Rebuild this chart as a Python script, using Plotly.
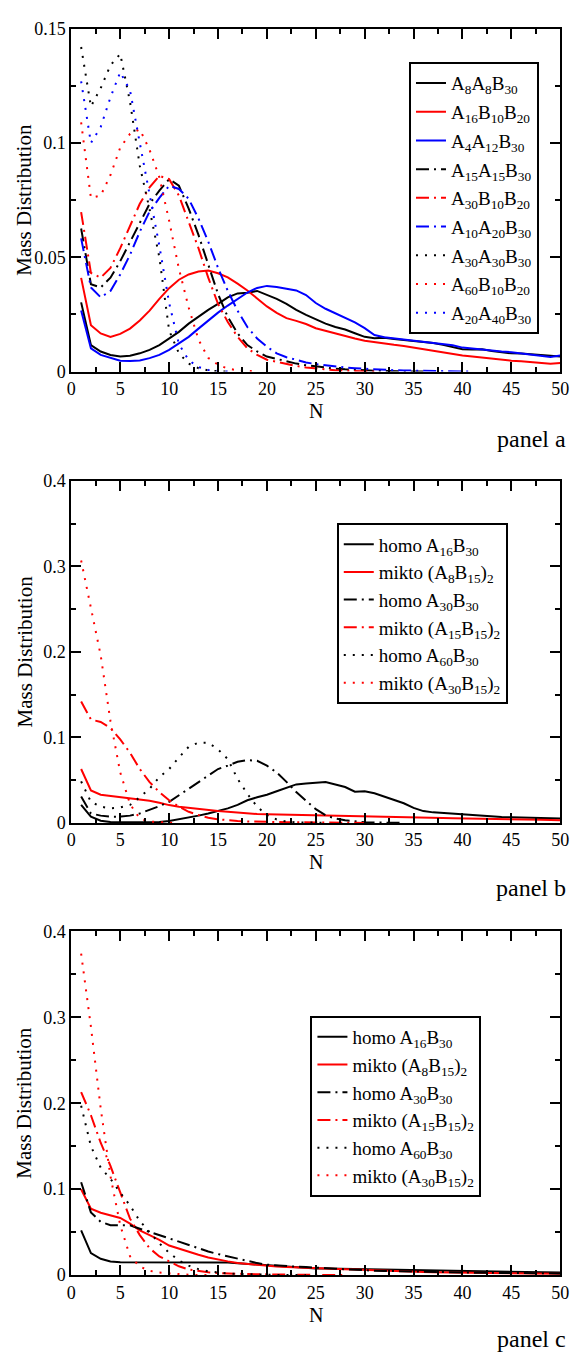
import plotly.graph_objects as go

W, H = 579, 1362
N = list(range(1, 51))

# ---------------- panel a ----------------
a_A8A8B30 = [0.0303, 0.0116, 0.0088, 0.0073, 0.0066, 0.0069, 0.0080, 0.0095, 0.0116, 0.0145,
             0.0174, 0.0210, 0.0240, 0.0270, 0.0296, 0.0325, 0.0342, 0.0345, 0.0353, 0.0335,
             0.0318, 0.0296, 0.0270, 0.0248, 0.0228, 0.0210, 0.0195, 0.0184, 0.0168, 0.0152,
             0.0146, 0.0148, 0.0143, 0.0139, 0.0136, 0.0130, 0.0125, 0.0117, 0.0108, 0.0098,
             0.0097, 0.0098, 0.0090, 0.0085, 0.0080, 0.0079, 0.0075, 0.0072, 0.0068, 0.0066]
a_A16B10B20 = [0.0410, 0.0203, 0.0167, 0.0152, 0.0165, 0.0188, 0.0224, 0.0267, 0.0318, 0.0365,
               0.0402, 0.0425, 0.0438, 0.0442, 0.0430, 0.0412, 0.0385, 0.0355, 0.0320, 0.0285,
               0.0257, 0.0234, 0.0222, 0.0208, 0.0190, 0.0178, 0.0168, 0.0155, 0.0145, 0.0135,
               0.0128, 0.0123, 0.0117, 0.0112, 0.0105, 0.0098, 0.0090, 0.0082, 0.0077, 0.0070,
               0.0066, 0.0061, 0.0057, 0.0052, 0.0048, 0.0045, 0.0042, 0.0038, 0.0034, 0.0038]
a_A4A12B30 = [0.0267, 0.0102, 0.0073, 0.0059, 0.0048, 0.0046, 0.0049, 0.0059, 0.0073, 0.0095,
              0.0124, 0.0152, 0.0188, 0.0224, 0.0258, 0.0289, 0.0318, 0.0346, 0.0366, 0.0375,
              0.0370, 0.0362, 0.0355, 0.0335, 0.0300, 0.0275, 0.0255, 0.0235, 0.0215, 0.0190,
              0.0160, 0.0150, 0.0145, 0.0140, 0.0135, 0.0132, 0.0128, 0.0122, 0.0115, 0.0105,
              0.0100, 0.0098, 0.0093, 0.0088, 0.0085, 0.0080, 0.0076, 0.0070, 0.0064, 0.0070]
a_A15A15B30 = [0.0626, 0.0382, 0.0368, 0.0411, 0.0483, 0.0569, 0.0655, 0.0734, 0.0792, 0.0842,
               0.0813, 0.0713, 0.0598, 0.0468, 0.0339, 0.0239, 0.0167, 0.0116, 0.0088, 0.0066,
               0.0055, 0.0045, 0.0035, 0.0028, 0.0022, 0.0017, 0.0013, 0.0010, 0.0007, 0.0005,
               0.0004, 0.0003, 0.0002, 0.0002, 0.0001, 0.0]
a_A30B10B20 = [0.0698, 0.0432, 0.0411, 0.0454, 0.0540, 0.0640, 0.0734, 0.0806, 0.0856, 0.0842,
               0.0770, 0.0655, 0.0540, 0.0411, 0.0296, 0.0217, 0.0152, 0.0102, 0.0073, 0.0052,
               0.0042, 0.0033, 0.0025, 0.0018, 0.0013, 0.0010, 0.0006, 0.0004, 0.0002, 0.0001, 0.0]
a_A10A20B30 = [0.0583, 0.0368, 0.0325, 0.0353, 0.0425, 0.0511, 0.0612, 0.0700, 0.0760, 0.0813,
               0.0799, 0.0756, 0.0670, 0.0569, 0.0454, 0.0353, 0.0267, 0.0195, 0.0145, 0.0109,
               0.0080, 0.0063, 0.0052, 0.0040, 0.0033, 0.0027, 0.0022, 0.0018, 0.0015, 0.0012,
               0.0010, 0.0008, 0.0006, 0.0005, 0.0004, 0.0003, 0.0002, 0.0002, 0.0001, 0.0001, 0.0]
a_A30A30B30 = [0.1420, 0.1160, 0.1240, 0.1340, 0.1390, 0.1180, 0.0900, 0.0710, 0.0500, 0.0180,
               0.0080, 0.0035, 0.0015, 0.0005, 0.0002, 0.0]
a_A60B10B20 = [0.1090, 0.0760, 0.0770, 0.0860, 0.0980, 0.1040, 0.1060, 0.0970, 0.0850, 0.0660,
               0.0450, 0.0280, 0.0140, 0.0060, 0.0030, 0.0013, 0.0006, 0.0002, 0.0]
a_A20A40B30 = [0.1270, 0.1000, 0.1070, 0.1200, 0.1310, 0.1230, 0.1000, 0.0770, 0.0550, 0.0300,
               0.0120, 0.0050, 0.0020, 0.0007, 0.0002, 0.0]

# ---------------- panel b ----------------
b_homo_A16B30 = [0.0210, 0.0073, 0.0025, 0.0010, 0.0006, 0.0005, 0.0005, 0.0006, 0.0010, 0.0023,
                 0.0042, 0.0060, 0.0085, 0.0110, 0.0140, 0.0170, 0.0210, 0.0265, 0.0300, 0.0330,
                 0.0370, 0.0410, 0.0450, 0.0460, 0.0468, 0.0478, 0.0450, 0.0420, 0.0365, 0.0370,
                 0.0346, 0.0310, 0.0270, 0.0230, 0.0175, 0.0138, 0.0123, 0.0115, 0.0104, 0.0096,
                 0.0092, 0.0082, 0.0075, 0.0070, 0.0065, 0.0062, 0.0060, 0.0058, 0.0055, 0.0050]
b_mikto_A8B15 = [0.0630, 0.0380, 0.0330, 0.0315, 0.0300, 0.0290, 0.0277, 0.0258, 0.0235, 0.0208,
                 0.0190, 0.0177, 0.0160, 0.0150, 0.0138, 0.0130, 0.0120, 0.0110, 0.0104, 0.0100,
                 0.0098, 0.0096, 0.0094, 0.0093, 0.0092, 0.0090, 0.0087, 0.0083, 0.0079, 0.0077,
                 0.0076, 0.0074, 0.0072, 0.0070, 0.0066, 0.0064, 0.0062, 0.0058, 0.0055, 0.0052,
                 0.0050, 0.0049, 0.0047, 0.0045, 0.0043, 0.0040, 0.0038, 0.0036, 0.0034, 0.0032]
b_homo_A30B30 = [0.0310, 0.0110, 0.0085, 0.0073, 0.0073, 0.0085, 0.0110, 0.0150, 0.0196, 0.0246,
                 0.0323, 0.0400, 0.0477, 0.0550, 0.0630, 0.0670, 0.0715, 0.0735, 0.0727, 0.0670,
                 0.0590, 0.0480, 0.0360, 0.0260, 0.0160, 0.0090, 0.0050, 0.0030, 0.0015, 0.0008,
                 0.0004, 0.0002, 0.0001, 0.0]
b_mikto_A15B15 = [0.1420, 0.1210, 0.1180, 0.1110, 0.0977, 0.0820, 0.0630, 0.0477, 0.0360, 0.0265,
                  0.0190, 0.0130, 0.0092, 0.0060, 0.0042, 0.0030, 0.0022, 0.0017, 0.0013, 0.0010,
                  0.0009, 0.0008, 0.0007, 0.0006, 0.0005, 0.0004, 0.0003, 0.0002, 0.0001, 0.0]
b_homo_A60B30 = [0.0485, 0.0246, 0.0190, 0.0170, 0.0180, 0.0210, 0.0300, 0.0400, 0.0535, 0.0630,
                 0.0765, 0.0890, 0.0938, 0.0938, 0.0860, 0.0746, 0.0515, 0.0340, 0.0190, 0.0090,
                 0.0040, 0.0015, 0.0007, 0.0003, 0.0001, 0.0]
b_mikto_A30B15 = [0.3070, 0.2520, 0.1960, 0.1190, 0.0590, 0.0220, 0.0050, 0.0015, 0.0005, 0.0002, 0.0]

# ---------------- panel c ----------------
c_homo_A16B30 = [0.0520, 0.0256, 0.0190, 0.0160, 0.0150, 0.0150, 0.0150, 0.0150, 0.0148, 0.0142,
                 0.0145, 0.0146, 0.0146, 0.0145, 0.0146, 0.0148, 0.0138, 0.0130, 0.0122, 0.0112,
                 0.0105, 0.0098, 0.0090, 0.0083, 0.0078, 0.0076, 0.0074, 0.0072, 0.0071, 0.0070,
                 0.0068, 0.0066, 0.0063, 0.0060, 0.0058, 0.0056, 0.0054, 0.0052, 0.0049, 0.0046,
                 0.0045, 0.0044, 0.0042, 0.0041, 0.0040, 0.0038, 0.0036, 0.0034, 0.0032, 0.0030]
c_mikto_A8B15 = [0.1000, 0.0772, 0.0726, 0.0696, 0.0665, 0.0600, 0.0520, 0.0466, 0.0410, 0.0344,
                 0.0306, 0.0268, 0.0237, 0.0206, 0.0180, 0.0160, 0.0141, 0.0130, 0.0115, 0.0107,
                 0.0100, 0.0095, 0.0092, 0.0088, 0.0085, 0.0080, 0.0075, 0.0070, 0.0065, 0.0060,
                 0.0056, 0.0052, 0.0048, 0.0044, 0.0040, 0.0037, 0.0034, 0.0032, 0.0030, 0.0028,
                 0.0026, 0.0024, 0.0022, 0.0021, 0.0020, 0.0019, 0.0018, 0.0017, 0.0016, 0.0015]
c_homo_A30B30 = [0.1080, 0.0730, 0.0620, 0.0580, 0.0580, 0.0580, 0.0540, 0.0500, 0.0466, 0.0428,
                 0.0390, 0.0350, 0.0313, 0.0275, 0.0245, 0.0218, 0.0187, 0.0160, 0.0140, 0.0122,
                 0.0112, 0.0105, 0.0098, 0.0094, 0.0090, 0.0082, 0.0075, 0.0068, 0.0061, 0.0055,
                 0.0052, 0.0049, 0.0046, 0.0043, 0.0040, 0.0038, 0.0036, 0.0034, 0.0032, 0.0030,
                 0.0029, 0.0028, 0.0027, 0.0026, 0.0025, 0.0024, 0.0023, 0.0022, 0.0021, 0.0020]
c_mikto_A15B15 = [0.2130, 0.1860, 0.1540, 0.1270, 0.0963, 0.0657, 0.0466, 0.0313, 0.0218, 0.0160,
                  0.0103, 0.0065, 0.0046, 0.0034, 0.0025, 0.0019, 0.0015, 0.0012, 0.0010, 0.0008,
                  0.0006, 0.0005, 0.0004, 0.0003, 0.0002, 0.0002, 0.0001, 0.0]
c_homo_A60B30 = [0.1970, 0.1500, 0.1250, 0.1120, 0.0960, 0.0810, 0.0630, 0.0500, 0.0370, 0.0260,
                 0.0170, 0.0110, 0.0070, 0.0045, 0.0030, 0.0020, 0.0015, 0.0010, 0.0007, 0.0005,
                 0.0003, 0.0002, 0.0001, 0.0]
c_mikto_A30B15 = [0.3740, 0.2890, 0.1940, 0.1150, 0.0580, 0.0220, 0.0100, 0.0050, 0.0030, 0.0020,
                  0.0010, 0.0005, 0.0002, 0.0]

labels_a = ["A<sub>8</sub>A<sub>8</sub>B<sub>30</sub>", "A<sub>16</sub>B<sub>10</sub>B<sub>20</sub>",
            "A<sub>4</sub>A<sub>12</sub>B<sub>30</sub>", "A<sub>15</sub>A<sub>15</sub>B<sub>30</sub>",
            "A<sub>30</sub>B<sub>10</sub>B<sub>20</sub>", "A<sub>10</sub>A<sub>20</sub>B<sub>30</sub>",
            "A<sub>30</sub>A<sub>30</sub>B<sub>30</sub>", "A<sub>60</sub>B<sub>10</sub>B<sub>20</sub>",
            "A<sub>20</sub>A<sub>40</sub>B<sub>30</sub>"]
labels_bc = ["homo A<sub>16</sub>B<sub>30</sub>", "mikto (A<sub>8</sub>B<sub>15</sub>)<sub>2</sub>",
             "homo A<sub>30</sub>B<sub>30</sub>", "mikto (A<sub>15</sub>B<sub>15</sub>)<sub>2</sub>",
             "homo A<sub>60</sub>B<sub>30</sub>", "mikto (A<sub>30</sub>B<sub>15</sub>)<sub>2</sub>"]

series_a = [a_A8A8B30, a_A16B10B20, a_A4A12B30, a_A15A15B30, a_A30B10B20, a_A10A20B30,
            a_A30A30B30, a_A60B10B20, a_A20A40B30]
series_b = [b_homo_A16B30, b_mikto_A8B15, b_homo_A30B30, b_mikto_A15B15, b_homo_A60B30, b_mikto_A30B15]
series_c = [c_homo_A16B30, c_mikto_A8B15, c_homo_A30B30, c_mikto_A15B15, c_homo_A60B30, c_mikto_A30B15]

SOLID = "solid"
DASHDOT = "13px,5px,2px,5px"
DOT = "2px,7px"
colors_a = ["black", "red", "blue"] * 3
dashes_a = [SOLID] * 3 + [DASHDOT] * 3 + [DOT] * 3
colors_bc = ["black", "red"] * 3
dashes_bc = [SOLID] * 2 + [DASHDOT] * 2 + [DOT] * 2

SERIF = "Liberation Serif, Times New Roman, serif"
fig = go.Figure()

def add_panel(series, labels, colors, dashes, ax, legend):
    for i, (vals, lab, col, da) in enumerate(zip(series, labels, colors, dashes)):
        fig.add_trace(go.Scatter(
            x=N[:len(vals)], y=vals, mode="lines", name=lab,
            line=dict(color=col, width=2, dash=da),
            xaxis="x" + ax, yaxis="y" + ax, legend=legend,
            legendgroup=legend + str(i)))

add_panel(series_a, labels_a, colors_a, dashes_a, "", "legend")
add_panel(series_b, labels_bc, colors_bc, dashes_bc, "2", "legend2")
add_panel(series_c, labels_bc, colors_bc, dashes_bc, "3", "legend3")

XL, XR = 68, 569
panels = [(19, 367, 0.15, 0.05), (478, 825, 0.4, 0.1), (935, 1284, 0.4, 0.1)]

common = dict(showline=True, linecolor="black", linewidth=2, mirror="allticks",
              ticks="inside", ticklen=10, tickwidth=2, tickcolor="black",
              showgrid=False, zeroline=False,
              tickfont=dict(family=SERIF, size=18, color="black"))

layout = dict(width=W, height=H, margin=dict(l=0, r=0, t=0, b=0),
              plot_bgcolor="white", paper_bgcolor="white", showlegend=True)
annotations = []
for k, (top, bot, ymax, dt) in enumerate(panels):
    sfx = "" if k == 0 else str(k + 1)
    ydom = [1 - bot / H, 1 - top / H]
    layout["xaxis" + sfx] = dict(common, domain=[XL / W, XR / W], range=[0, 50], dtick=5, tick0=0,
                                 anchor="y" + sfx,
                                 minor=dict(ticks="inside", ticklen=5, tickwidth=2, tickcolor="black",
                                            dtick=2.5, showgrid=False))
    layout["yaxis" + sfx] = dict(common, domain=ydom, range=[0, ymax], dtick=dt, tick0=0,
                                 anchor="x" + sfx,
                                 minor=dict(ticks="inside", ticklen=5, tickwidth=2, tickcolor="black",
                                            dtick=dt / 2, showgrid=False))
    annotations.append(dict(text="Mass Distribution", textangle=-90, xref="paper", yref="paper",
                            x=20 / W, y=1 - (top + bot) / 2 / H, xanchor="center", yanchor="middle",
                            showarrow=False, font=dict(family=SERIF, size=21, color="black")))
    annotations.append(dict(text="N", xref="paper", yref="paper",
                            x=(XL + XR) / 2 / W, y=1 - (bot + 27) / H, xanchor="center", yanchor="top",
                            showarrow=False, font=dict(family=SERIF, size=20, color="black")))
    annotations.append(dict(text="panel " + "abc"[k], xref="paper", yref="paper",
                            x=577 / W, y=1 - [435, 891, 1349][k] / H, xanchor="right", yanchor="middle",
                            showarrow=False, font=dict(family=SERIF, size=24, color="black")))
layout["annotations"] = annotations

leg = dict(bgcolor="white", bordercolor="black", borderwidth=2, xanchor="left", yanchor="top",
           font=dict(family=SERIF, size=19, color="black"), xref="paper", yref="paper")
layout["legend"] = dict(leg, x=414 / W, y=1 - 53 / H, tracegroupgap=1)
layout["legend2"] = dict(leg, x=340 / W, y=1 - 521 / H, tracegroupgap=0)
layout["legend3"] = dict(leg, x=313 / W, y=1 - 1021 / H, tracegroupgap=0)

fig.update_layout(**layout)
fig.write_html("out.html", config={"displayModeBar": False},
               post_script="document.body.style.margin='0';document.body.style.overflow='hidden';")
